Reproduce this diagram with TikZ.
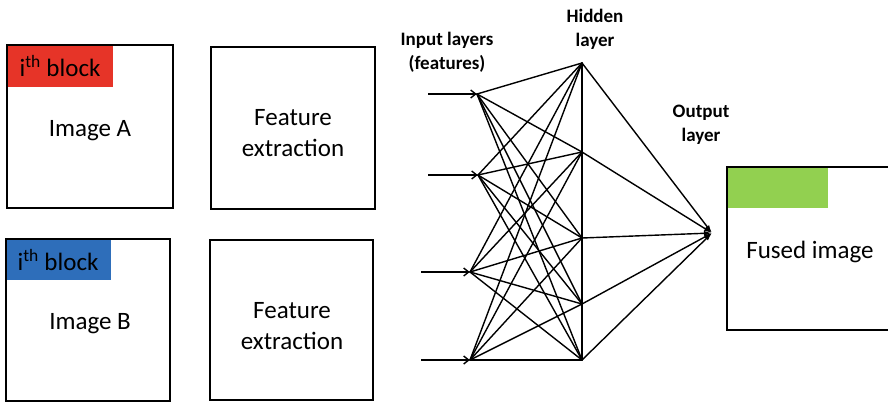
\documentclass[tikz,border=0pt]{standalone}
\usepackage{fontspec}
\setmainfont{Carlito}
\usetikzlibrary{arrows.meta}
\definecolor{blkred}{RGB}{230,52,40}
\definecolor{blkblue}{RGB}{46,110,186}
\definecolor{blkgreen}{RGB}{146,208,80}
\begin{document}
\begin{tikzpicture}[x=1pt,y=-1pt,
  box/.style={draw=black,line width=2.4pt},
  big/.style={font=\fontsize{25}{31}\selectfont,align=center,inner sep=0pt},
  lbl/.style={font=\bfseries\fontsize{19}{24}\selectfont,align=center,inner sep=0pt},
  unit/.style={inner sep=0pt,minimum size=0pt},
  net/.style={line width=1.4pt,line cap=round},
  inarrow/.style={line width=1.4pt,-{Straight Barb[length=5pt,width=8pt]}},
  outarrow/.style={line width=1.4pt,-{Latex[length=8pt,width=5pt]}}]
\useasboundingbox (0,0) rectangle (888,404);

% Image A
\fill[blkred] (7,45) rectangle (113,87);
\draw[box] (7,45) rectangle (173,208);
\node[big] (blockA) at (60,66) {i\textsuperscript{th} block};
\node[big] (imgA) at (90,131) {Image A};

% Image B
\fill[blkblue] (6,239) rectangle (111,280);
\draw[box] (6,239) rectangle (170,401);
\node[big] (blockB) at (58,260) {i\textsuperscript{th} block};
\node[big] (imgB) at (90,324) {Image B};

% Feature extraction
\draw[box] (211,47) rectangle (375,209);
\node[big] (featA) at (293,133) {Feature\\extraction};
\draw[box] (210,240) rectangle (373,400);
\node[big] (featB) at (292,326) {Feature\\extraction};

% Fused image
\fill[blkgreen] (727,167) rectangle (828,208);
\draw[box] (892,167) -- (727,167) -- (727,330) -- (892,330);
\node[big] (fused) at (810,252) {Fused image};

% Labels
\node[lbl] (inlbl) at (447,52) {Input layers\\(features)};
\node[lbl] (hidlbl) at (595,29) {Hidden\\layer};
\node[lbl] (outlbl) at (701,125) {Output\\layer};

% Network units
\node[unit] (i1) at (477,94) {};
\node[unit] (i2) at (478,175) {};
\node[unit] (i3) at (470,272) {};
\node[unit] (i4) at (470,360) {};
\node[unit] (h1) at (582,63) {};
\node[unit] (h2) at (582,152) {};
\node[unit] (h3) at (582,238) {};
\node[unit] (h4) at (582,304) {};
\node[unit] (h5) at (582,360) {};
\node[unit] (o) at (712,233) {};
\coordinate (s1) at (428,94);
\coordinate (s2) at (428,175);
\coordinate (s3) at (421,272);
\coordinate (s4) at (421,360);

\draw[inarrow] (s1) -- (i1);
\draw[inarrow] (s2) -- (i2);
\draw[inarrow] (s3) -- (i3);
\draw[inarrow] (s4) -- (i4);

\foreach \i in {i1,i2,i3,i4}{
  \foreach \h in {h1,h2,h3,h4,h5}{
    \draw[net] (\i.center) -- (\h.center);
  }
}
\draw[net] (h1.center) -- (h5.center);
\foreach \h in {h1,h2,h3,h4,h5}{
  \draw[outarrow] (\h.center) -- (o.center);
}
\end{tikzpicture}
\end{document}
